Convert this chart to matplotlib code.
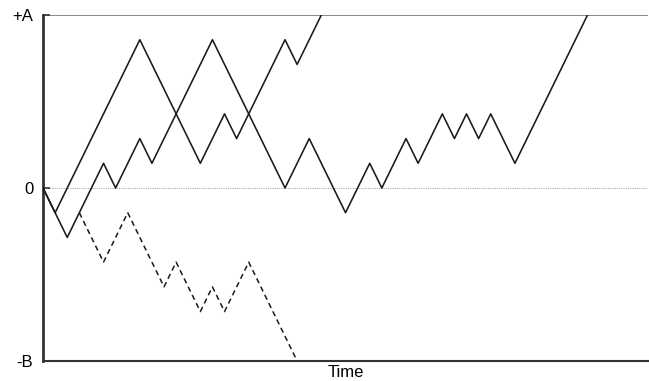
import numpy as np
import matplotlib.pyplot as plt

plt.rcParams['font.family'] = ['Liberation Sans', 'DejaVu Sans']

# barreiras
A = 7
B = 7

# caminho 1 (atinge +A cedo)
t1 = [0, 1, 8, 13, 15, 16, 20, 21, 23]
y1 = [0, -1, 6, 1, 3, 2, 6, 5, 7]

# caminho 2 (atinge +A tarde)
t2 = [0, 2, 5, 6, 8, 9, 14, 20, 22, 25, 27, 28, 30, 31, 33, 34, 35, 36, 37, 39, 45]
y2 = [0, -2, 1, 0, 2, 1, 6, 0, 2, -1, 1, 0, 2, 1, 3, 2, 3, 2, 3, 1, 7]

# caminho tracejado (atinge -B)
t3 = [3, 5, 7, 10, 11, 13, 14, 15, 17, 21]
y3 = [-1, -3, -1, -4, -3, -5, -4, -5, -3, -7]

fig = plt.figure(figsize=(6.49, 3.81), dpi=100)
ax = fig.add_axes([0.0663, 0.0525, 0.9322, 0.9081])

ax.axhline(A, color='#777777', lw=1.2, zorder=1)
ax.axhline(0, color='#aaaaaa', lw=0.8, ls=(0, (1, 1)), zorder=1)

ax.plot(t3, y3, color='#1a1a1a', lw=1.1, ls=(0, (3.5, 2.5)), zorder=2)
ax.plot(t1, y1, color='#1a1a1a', lw=1.15, zorder=3)
ax.plot(t2, y2, color='#1a1a1a', lw=1.15, zorder=3)

ax.set_xlim(0, 50)
ax.set_ylim(-B, A)
ax.set_xticks([])
ax.set_yticks([A, 0, -B])
ax.set_yticklabels(['+A', '0', '-B'], fontsize=12)
ax.tick_params(axis='y', direction='in', length=5, width=1.2, color='#333333', pad=7)
ax.set_xlabel('Time', fontsize=12, labelpad=3)

ax.spines['top'].set_visible(False)
ax.spines['right'].set_visible(False)
ax.spines['left'].set_color('#333333')
ax.spines['left'].set_linewidth(2)
ax.spines['bottom'].set_color('#333333')
ax.spines['bottom'].set_linewidth(1.5)

plt.savefig('out.png', dpi=100)
